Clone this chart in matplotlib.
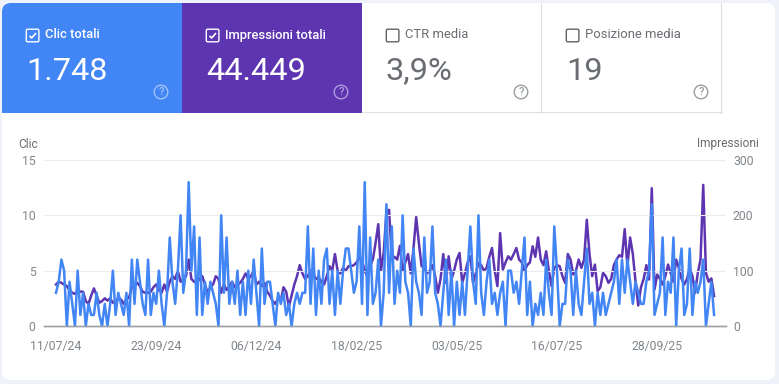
import matplotlib
matplotlib.use("Agg")
import pandas as pd
from matplotlib import pyplot as plt
from matplotlib.patches import Circle, FancyBboxPatch, Rectangle

plt.rcParams["font.family"] = ["Roboto", "DejaVu Sans"]

W, H = 779, 384

tile_labels = ["Clic totali", "Impressioni totali", "CTR media", "Posizione media"]
tile_values = ["1.748", "44.449", "3,9%", "19"]
tile_checked = [True, True, False, False]

date_labels = ["11/07/24", "23/09/24", "06/12/24", "18/02/25", "03/05/25", "16/07/25", "28/09/25"]
left_ticks = [0, 5, 10, 15]
right_ticks = [0, 100, 200, 300]

# one value every two days
clicks = [
    3, 4, 6, 5, 0, 4, 2, 0, 5, 1,
    3, 0, 2, 1, 1, 3, 1, 0, 2, 0,
    2, 5, 1, 3, 2, 1, 3, 0, 6, 2,
    6, 4, 2, 1, 6, 1, 3, 2, 5, 2,
    0, 3, 8, 4, 2, 5, 10, 3, 5, 13,
    5, 9, 1, 8, 1, 4, 2, 4, 3, 2,
    0, 10, 3, 8, 2, 4, 2, 5, 1, 4,
    1, 5, 2, 6, 3, 0, 7, 2, 4, 4,
    2, 0, 3, 2, 3, 1, 2, 0, 2, 3,
    2, 3, 3, 9, 2, 7, 1, 5, 2, 6,
    7, 2, 5, 1, 5, 2, 5, 7, 7, 5,
    3, 4, 9, 2, 13, 1, 8, 2, 3, 6,
    0, 3, 11, 3, 9, 2, 5, 3, 10, 4,
    3, 0, 7, 4, 3, 1, 8, 3, 4, 9,
    3, 2, 0, 3, 6, 1, 5, 0, 4, 1,
    4, 1, 5, 9, 4, 2, 10, 3, 1, 4,
    6, 2, 3, 1, 3, 4, 0, 5, 5, 3,
    4, 2, 5, 8, 1, 4, 0, 2, 1, 3,
    1, 6, 3, 1, 9, 5, 0, 2, 2, 6,
    5, 1, 5, 2, 1, 4, 7, 2, 3, 0,
    3, 1, 3, 1, 2, 3, 4, 6, 2, 6,
    3, 6, 4, 2, 4, 3, 2, 2, 4, 5,
    11, 1, 2, 3, 8, 1, 4, 3, 8, 0,
    5, 7, 1, 2, 7, 1, 4, 3, 4, 6,
    0, 2, 4, 1,
]
impressions = [
    75, 80, 78, 75, 72, 65, 60, 58, 65, 62,
    62, 45, 40, 55, 68, 55, 42, 45, 50, 46,
    50, 42, 44, 50, 48, 40, 48, 52, 70, 76,
    78, 72, 62, 60, 60, 62, 70, 75, 65, 60,
    75, 62, 80, 90, 85, 100, 80, 85, 90, 120,
    85, 80, 78, 85, 90, 75, 60, 70, 75, 90,
    85, 60, 75, 65, 72, 80, 70, 75, 78, 85,
    95, 85, 90, 100, 75, 80, 72, 78, 62, 55,
    45, 40, 50, 45, 70, 62, 35, 55, 75, 90,
    110, 95, 85, 90, 100, 95, 85, 88, 80, 75,
    90, 108, 100, 130, 100, 95, 105, 100, 108, 108,
    110, 115, 123, 118, 100, 90, 110, 120, 150, 184,
    100, 132, 205, 210, 120, 125, 120, 145, 100, 115,
    130, 95, 140, 197, 150, 108, 105, 95, 100, 110,
    90, 60, 85, 130, 78, 126, 84, 100, 120, 132,
    78, 95, 115, 126, 78, 95, 114, 110, 100, 105,
    125, 141, 100, 72, 168, 102, 115, 126, 120, 130,
    141, 120, 115, 100, 110, 115, 144, 125, 160, 120,
    110, 135, 100, 72, 105, 110, 108, 90, 78, 130,
    120, 93, 100, 120, 105, 120, 192, 130, 90, 111,
    63, 70, 96, 90, 78, 85, 110, 120, 128, 125,
    175, 108, 160, 130, 80, 37, 70, 85, 110, 84,
    249, 66, 93, 85, 75, 90, 111, 95, 80, 120,
    105, 85, 75, 85, 105, 90, 60, 96, 120, 255,
    96, 80, 86, 54,
]

BLUE = "#4285f4"
PURPLE = "#5e35b1"
GREY = "#696d72"
TICK = "#80868b"
RULE = "#e0e0e0"

dates = pd.date_range("2024-07-11", periods=len(clicks), freq="2D")
tick_dates = pd.to_datetime(date_labels, format="%d/%m/%y")

fig = plt.figure(figsize=(W / 100, H / 100), dpi=100, facecolor="#eff3f9")

# page furniture, in pixel coordinates
bg = fig.add_axes([0, 0, 1, 1], zorder=0)
bg.set_xlim(0, W)
bg.set_ylim(H, 0)
bg.axis("off")

card = FancyBboxPatch(
    (2, 3), 773, 377, boxstyle="round,pad=0,rounding_size=9", fc="white", ec="none"
)
bg.add_patch(card)

tile_fill = [BLUE, PURPLE, "white", "white"]
for i in range(4):
    x0 = 2 + 180 * i
    checked = tile_checked[i]
    tile = Rectangle((x0, 3), 180, 110, fc=tile_fill[i], ec="none")
    bg.add_patch(tile)
    tile.set_clip_path(card)

    fg = "white" if checked else GREY
    box = FancyBboxPatch(
        (x0 + 24.3, 29.2), 12.6, 12.6, boxstyle="round,pad=0,rounding_size=1.5",
        fc="none", ec="white" if checked else "#5f6368", lw=1.0,
    )
    bg.add_patch(box)
    if checked:
        bg.plot(
            [x0 + 27.5, x0 + 29.7, x0 + 34], [35.8, 38, 33],
            color="white", lw=1.2, solid_capstyle="butt",
        )
    bg.text(
        x0 + 43, 35, tile_labels[i], color=fg, fontsize=9.4, va="center",
        fontweight="medium" if checked else "normal",
    )
    bg.text(x0 + 24, 71, tile_values[i], color=fg, fontsize=23.4, va="center")

    # help icon
    icon = "white" if checked else "#80868b"
    alpha = 0.5 if checked else 0.8
    bg.add_patch(Circle((x0 + 159, 92), 6.8, fc="none", ec=icon, lw=1.0, alpha=alpha))
    bg.text(
        x0 + 159, 92.3, "?", color=icon, alpha=alpha, fontsize=8,
        ha="center", va="center", fontweight="medium",
    )

# bottom and divider rules of the tiles
bg.plot([362, 722], [112, 112], color=RULE, lw=0.8)
bg.plot([541.5, 541.5], [3, 113], color=RULE, lw=0.8)
bg.plot([721.5, 721.5], [3, 113], color=RULE, lw=0.8)

bg.text(18, 144, "Clic", color=GREY, fontsize=8.6, va="center")
bg.text(759, 144, "Impressioni", color=GREY, fontsize=8.6, va="center", ha="right")

# chart: 44..726 px across, 160..326 px down
ax = fig.add_axes([44 / W, 1 - 326 / H, 682 / W, 166 / H], zorder=1)
ax.patch.set_alpha(0)
ax_r = ax.twinx()
ax_r.set_zorder(0)
ax.set_zorder(1)

px_per_day = 100.2 / 74
start = dates[0]
ax.set_xlim(start - pd.Timedelta(days=12 / px_per_day), start + pd.Timedelta(days=670 / px_per_day))
ax.set_ylim(0, 15)
ax_r.set_ylim(0, 300)

ax_r.plot(dates, impressions, color=PURPLE, lw=1.8, clip_on=False, solid_joinstyle="round")
ax.plot(dates, clicks, color=BLUE, lw=1.8, clip_on=False, solid_joinstyle="round")

ax.set_xticks(tick_dates)
ax.set_xticklabels(date_labels)
ax.set_yticks(left_ticks)
ax_r.set_yticks(right_ticks)
ax.grid(axis="y", color="#ececec", lw=0.8)
ax.set_axisbelow(True)

for a in (ax, ax_r):
    for side in ("top", "left", "right"):
        a.spines[side].set_visible(False)
    a.spines["bottom"].set_color("#9aa0a6")
    a.spines["bottom"].set_linewidth(1.0)
    a.tick_params(length=0, labelcolor=TICK, labelsize=8.8)
ax.tick_params(axis="x", pad=10)
ax.tick_params(axis="y", pad=6)
ax_r.tick_params(axis="y", pad=5)

fig.savefig("out.png", dpi=100, facecolor=fig.get_facecolor())
plt.close(fig)
